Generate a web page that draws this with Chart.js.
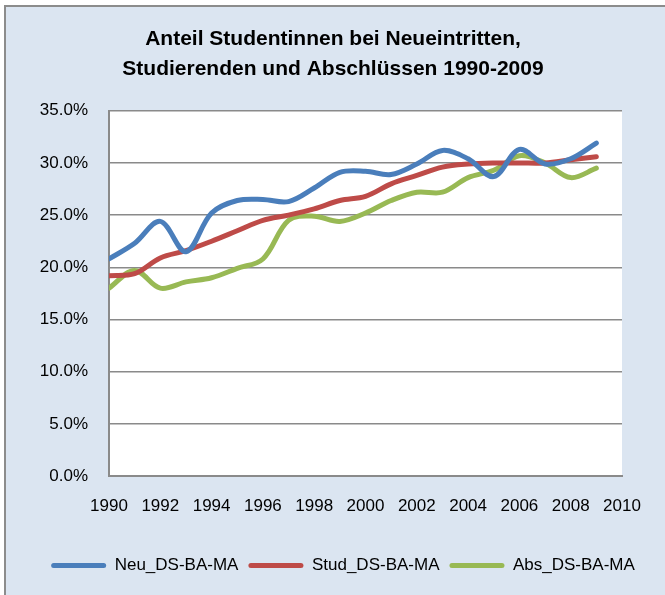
<!DOCTYPE html>
<html>
<head>
<meta charset="utf-8">
<script src="https://cdn.jsdelivr.net/npm/chart.js@4/dist/chart.umd.min.js"></script>
<style>
  html, body { margin: 0; padding: 0; background: #fff; }
  #wrap { width: 665px; height: 595px; }
</style>
</head>
<body>
<div id="wrap"><canvas id="chart" width="665" height="595"></canvas></div>
<script>
// values (percent)
const years = [1990, 1991, 1992, 1993, 1994, 1995, 1996, 1997, 1998, 1999,
  2000, 2001, 2002, 2003, 2004, 2005, 2006, 2007, 2008, 2009];
const neu = [20.8, 22.3, 24.4, 21.5, 25.2, 26.4, 26.5, 26.3, 27.6, 29.1,
  29.2, 28.9, 29.9, 31.2, 30.4, 28.7, 31.3, 29.9, 30.4, 31.9];
const stud = [19.2, 19.4, 20.9, 21.6, 22.5, 23.5, 24.5, 25.0, 25.6, 26.4,
  26.8, 28.0, 28.8, 29.6, 29.9, 30.0, 30.0, 30.0, 30.3, 30.6];
const abs = [18.0, 19.7, 18.0, 18.6, 19.0, 19.9, 20.8, 24.5, 24.9, 24.4,
  25.2, 26.4, 27.2, 27.2, 28.6, 29.3, 30.7, 30.0, 28.6, 29.5];
const seriesNames = ['Neu_DS-BA-MA', 'Stud_DS-BA-MA', 'Abs_DS-BA-MA'];
const titleLines = ['Anteil Studentinnen bei Neueintritten,', 'Studierenden und Abschlüssen 1990-2009'];

const font = "Arial, 'Liberation Sans', sans-serif";
const gridGray = '#8a8a8a';

function pts(vals) {
  return years.map((y, i) => ({ x: y, y: vals[i] }));
}

function line(label, vals, color) {
  return {
    label: label,
    data: pts(vals),
    borderColor: color,
    backgroundColor: color,
    borderWidth: 5,
    borderCapStyle: 'round',
    borderJoinStyle: 'round',
    pointRadius: 0,
    tension: 0.35,
    fill: false,
  };
}

// excel-like frame: light blue chart area with grey left/top edge, white plot area
const frame = {
  id: 'frame',
  beforeDraw(chart) {
    const c = chart.ctx;
    const a = chart.chartArea;
    c.save();
    c.fillStyle = '#fff';
    c.fillRect(0, 0, chart.width, chart.height);
    c.fillStyle = '#dbe5f1';
    c.fillRect(5, 6, chart.width - 5, chart.height - 6);
    c.strokeStyle = '#8c8c8c';
    c.lineWidth = 2;
    c.beginPath();
    c.moveTo(5, chart.height);
    c.lineTo(5, 6);
    c.lineTo(chart.width, 6);
    c.stroke();
    c.fillStyle = '#fff';
    c.fillRect(a.left, a.top, a.right - a.left, a.bottom - a.top);
    c.restore();
  },
  afterLayout(chart) {
    // title and legend are centred on the whole frame, not on the plot
    chart.titleBlock.left += 22;
    chart.titleBlock.right += 22;
    chart.legend.left += 32;
    chart.legend.right += 32;
  }
};

Chart.defaults.font.family = font;
Chart.defaults.color = '#000';

new Chart(document.getElementById('chart'), {
  type: 'line',
  data: {
    datasets: [
      line(seriesNames[0], neu, '#4a7ebb'),
      line(seriesNames[1], stud, '#be4b48'),
      line(seriesNames[2], abs, '#98b954'),
    ],
  },
  options: {
    responsive: false,
    animation: false,
    layout: { padding: { left: 0, right: 43, top: 0, bottom: 11 } },
    plugins: {
      title: {
        display: true,
        text: titleLines,
        color: '#000',
        font: { size: 21, weight: 'bold', lineHeight: 1.4 },
        padding: { top: 25, bottom: 27 },
      },
      legend: {
        position: 'bottom',
        labels: {
          boxWidth: 55,
          boxHeight: 5,
          padding: 10,
          color: '#000',
          font: { size: 17 },
          useBorderRadius: true,
          borderRadius: 2.5,
          generateLabels(chart) {
            const items = Chart.defaults.plugins.legend.labels.generateLabels(chart);
            items.forEach(it => { it.lineWidth = 0; it.fillStyle = it.strokeStyle; });
            return items;
          },
        },
      },
      tooltip: { enabled: false },
    },
    scales: {
      x: {
        type: 'linear',
        min: 1990,
        max: 2010,
        grid: { display: false, drawTicks: false },
        border: { display: true, color: gridGray, width: 2 },
        ticks: {
          stepSize: 2,
          padding: 20,
          font: { size: 17 },
          color: '#000',
          callback: v => String(v),
        },
        afterFit(scale) { scale.height = 71; },
      },
      y: {
        min: 0,
        max: 35,
        grid: { color: gridGray, lineWidth: 1.5, drawTicks: false },
        border: { display: true, color: gridGray, width: 2 },
        ticks: {
          stepSize: 5,
          padding: 21,
          font: { size: 17 },
          color: '#000',
          callback: v => v.toFixed(1) + '%',
        },
        afterFit(scale) { scale.width = 109; },
      },
    },
  },
  plugins: [frame],
});
</script>
</body>
</html>
